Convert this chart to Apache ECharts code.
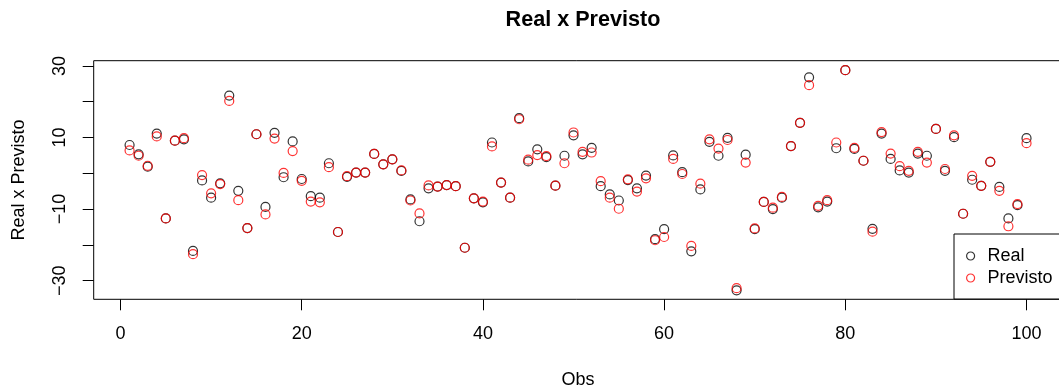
<!DOCTYPE html>
<html>
<head>
<meta charset="utf-8">
<script src="https://cdn.jsdelivr.net/npm/echarts@6/dist/echarts.min.js"></script>
<style>
  html, body { margin: 0; padding: 0; background: #fff; }
  #chart { width: 1059px; height: 386px; }
</style>
</head>
<body>
<div id="chart"></div>
<script>
// valores (obs 1..100)
const real = [
  7.9, 5.3, 1.85, 11.1, -12.6, 9.1, 9.5, -21.7, -2.0, -6.8,
  -2.8, 21.7, -4.9, -15.3, 10.9, -9.4, 11.3, -1.1, 8.9, -1.6,
  -6.4, -6.8, 2.8, -16.4, -1.0, 0.2, 0.2, 5.4, 2.5, 3.9,
  0.65, -7.3, -13.4, -4.2, -3.7, -3.3, -3.6, -20.8, -7.0, -8.1,
  8.6, -2.6, -6.8, 15.4, 3.3, 6.7, 4.5, -3.45, 4.9, 10.6,
  5.3, 7.1, -3.6, -5.9, -7.6, -1.9, -4.2, -0.65, -18.4, -15.6,
  5.0, 0.3, -21.8, -4.5, 8.8, 4.9, 9.9, -32.7, 5.2, -15.6,
  -8.0, -10.0, -6.8, 7.6, 14.1, 26.8, -9.5, -7.9, 7.0, 28.8,
  6.8, 3.5, -15.5, 11.1, 4.0, 0.8, 0.2, 5.5, 4.9, 12.4,
  0.7, 10.1, -11.3, -1.8, -3.5, 3.2, -3.8, -12.6, -8.9, 9.8
];
const previsto = [
  6.4, 4.9, 2.1, 10.3, -12.6, 9.1, 9.8, -22.6, -0.5, -5.6,
  -3.0, 20.2, -7.5, -15.3, 10.9, -11.5, 9.7, 0.1, 6.2, -2.1,
  -7.9, -8.1, 1.7, -16.4, -0.8, 0.2, 0.2, 5.4, 2.5, 3.9,
  0.8, -7.6, -11.2, -3.4, -3.7, -3.3, -3.6, -20.8, -7.0, -7.9,
  7.5, -2.6, -6.8, 15.1, 3.8, 5.1, 4.8, -3.45, 2.8, 11.4,
  6.0, 5.8, -2.2, -6.8, -9.9, -1.7, -5.1, -1.4, -18.7, -17.8,
  4.0, -0.2, -20.3, -2.9, 9.5, 6.9, 9.3, -32.1, 3.0, -15.4,
  -8.0, -9.6, -6.6, 7.6, 14.1, 24.6, -9.1, -7.5, 8.6, 28.8,
  7.1, 3.5, -16.3, 11.5, 5.5, 2.0, 0.7, 6.0, 3.0, 12.4,
  1.2, 10.6, -11.3, -0.7, -3.5, 3.2, -4.9, -14.8, -8.6, 8.4
];
const xTicks = [0, 20, 40, 60, 80, 100];
const yTicks = [-30, -20, -10, 0, 10, 20, 30];
const yLabels = [-30, -10, 10, 30];

const FONT = "Liberation Sans";
const toPoints = (arr) => arr.map((v, i) => [i + 1, v]);
// R escreve o sinal de menos como U+2212
const minus = (v) => String(v).replace("-", "\u2212");

const chart = echarts.init(document.getElementById("chart"), null, { renderer: "canvas" });

const option = {
  animation: false,
  backgroundColor: "#fff",
  textStyle: { fontFamily: FONT },
  title: {
    text: "Real x Previsto",
    left: 578,
    top: 4,
    textAlign: "center",
    textStyle: { fontFamily: FONT, fontSize: 21.6, fontWeight: "bold", color: "#000" },
  },
  grid: {
    show: true,
    left: 93.7,
    top: 60.7,
    right: -3.4,
    bottom: 86.7,
    outerBoundsMode: "none",
    containLabel: false,
    borderColor: "#000",
    borderWidth: 1,
  },
  legend: {
    orient: "vertical",
    left: 954,
    top: 234,
    padding: [13, 120, 12, 12],
    itemGap: 4,
    itemWidth: 8,
    itemHeight: 8,
    borderColor: "#000",
    borderWidth: 1,
    backgroundColor: "#fff",
    textStyle: { fontFamily: FONT, fontSize: 18, color: "#000", padding: [0, 0, 0, 8] },
    data: [
      { name: "Real", icon: "circle", itemStyle: { color: "transparent", borderColor: "#000", borderWidth: 1.2 } },
      { name: "Previsto", icon: "circle", itemStyle: { color: "transparent", borderColor: "#ff0000", borderWidth: 1.2 } },
    ],
  },
  xAxis: {
    type: "value",
    min: -2.96,
    max: 103.96,
    name: "Obs",
    nameLocation: "middle",
    nameGap: 72,
    nameTextStyle: { fontFamily: FONT, fontSize: 18, color: "#000" },
    axisLine: { show: false, onZero: false },
    splitLine: { show: false },
    axisTick: { show: true, length: 11, lineStyle: { color: "#000" }, customValues: xTicks },
    axisLabel: { fontFamily: FONT, fontSize: 18, color: "#000", margin: 26, customValues: xTicks },
  },
  yAxis: {
    type: "value",
    min: -35.2,
    max: 31.45,
    name: "Real x Previsto",
    nameLocation: "middle",
    nameGap: 66,
    nameTextStyle: { fontFamily: FONT, fontSize: 18, color: "#000" },
    axisLine: { show: false, onZero: false },
    splitLine: { show: false },
    axisTick: { show: true, length: 11, lineStyle: { color: "#000" }, customValues: yTicks },
    axisLabel: {
      fontFamily: FONT, fontSize: 18, color: "#000", margin: 25, rotate: 90,
      customValues: yLabels, formatter: minus,
    },
  },
  series: [
    {
      name: "Real",
      type: "scatter",
      data: toPoints(real),
      symbol: "circle",
      symbolSize: 9,
      itemStyle: { color: "transparent", borderColor: "#000", borderWidth: 1.2 },
    },
    {
      name: "Previsto",
      type: "scatter",
      data: toPoints(previsto),
      symbol: "circle",
      symbolSize: 9,
      itemStyle: { color: "transparent", borderColor: "#ff0000", borderWidth: 1.2 },
    },
  ],
};

chart.setOption(option);
</script>
</body>
</html>
